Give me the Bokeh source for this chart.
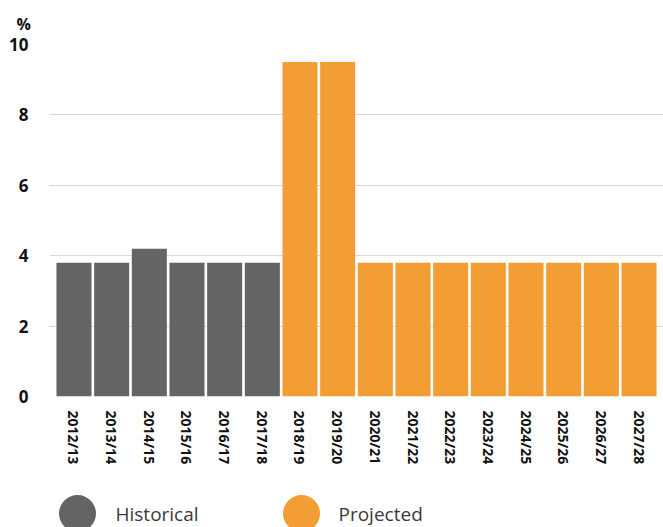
from bokeh.plotting import figure
from bokeh.models import FactorRange, Range1d, FixedTicker, ColumnDataSource
from bokeh.layouts import column
from bokeh.embed import file_html
from bokeh.resources import INLINE
from bokeh.core.properties import value

years = ["2012/13", "2013/14", "2014/15", "2015/16", "2016/17", "2017/18",
         "2018/19", "2019/20", "2020/21", "2021/22", "2022/23", "2023/24",
         "2024/25", "2025/26", "2026/27", "2027/28"]
historical_years = years[:6]
historical_values = [3.8, 3.8, 4.2, 3.8, 3.8, 3.8]
projected_years = years[6:]
projected_values = [9.5, 9.5, 3.8, 3.8, 3.8, 3.8, 3.8, 3.8, 3.8, 3.8]
y_ticks = [0, 2, 4, 6, 8, 10]
legend_labels = ["Historical", "Projected"]

GRAY = "#636466"
ORANGE = "#f39e34"
FONT = "Open Sans"

p = figure(width=663, height=470, output_backend="svg", toolbar_location=None,
           x_range=FactorRange(*years, range_padding=0.15, range_padding_units="absolute"),
           y_range=Range1d(0, 10), title="%",
           min_border_left=49, min_border_right=0, min_border_top=44, min_border_bottom=74)
p.outline_line_color = None
p.background_fill_color = "white"
p.border_fill_color = "white"

p.title.align = "left"
p.title.offset = -33
p.title.standoff = 20
p.title.text_font = FONT
p.title.text_font_style = "bold"
p.title.text_font_size = "16px"
p.title.text_color = "#111111"

p.vbar(x=historical_years, top=historical_values, width=0.93, color=GRAY, line_color=None)
p.vbar(x=projected_years, top=projected_values, width=0.93, color=ORANGE, line_color=None)

p.yaxis.ticker = FixedTicker(ticks=y_ticks)
p.yaxis.axis_line_color = None
p.yaxis.major_tick_line_color = None
p.yaxis.minor_tick_line_color = None
p.yaxis.major_label_standoff = 15
p.yaxis.major_label_text_font = FONT
p.yaxis.major_label_text_font_style = "bold"
p.yaxis.major_label_text_font_size = "17px"
p.yaxis.major_label_text_color = "#111111"

p.xaxis.axis_line_color = None
p.xaxis.major_tick_line_color = None
p.xaxis.minor_tick_line_color = None
p.xaxis.major_label_orientation = "vertical"
p.xaxis.major_label_standoff = 8
p.xaxis.major_label_text_font = FONT
p.xaxis.major_label_text_font_style = "bold"
p.xaxis.major_label_text_font_size = "14px"
p.xaxis.major_label_text_color = "#111111"

p.xgrid.grid_line_color = None
p.ygrid.grid_line_color = "#d9d9d9"
p.ygrid.grid_line_width = 1

# legend figure (x data units equal canvas pixels)
lg = figure(width=663, height=57, output_backend="svg", toolbar_location=None,
            x_range=Range1d(49, 663), y_range=Range1d(0, 57),
            min_border_left=49, min_border_right=0,
            min_border_top=0, min_border_bottom=0)
lg.axis.visible = False
lg.grid.visible = False
lg.outline_line_color = None
src = ColumnDataSource(dict(x=[77, 301], y=[14, 14], c=[GRAY, ORANGE],
                            tx=[115, 338], ty=[14, 14], t=legend_labels))
lg.scatter(x="x", y="y", size=37, color="c", line_color=None, source=src)
lg.text(x="tx", y="ty", text="t", text_font=value(FONT), text_font_size="19px",
        text_color="#3a3a3a", text_baseline="middle", source=src)

layout = column(p, lg, spacing=0)
open("out.html", "w").write(file_html(layout, INLINE))
